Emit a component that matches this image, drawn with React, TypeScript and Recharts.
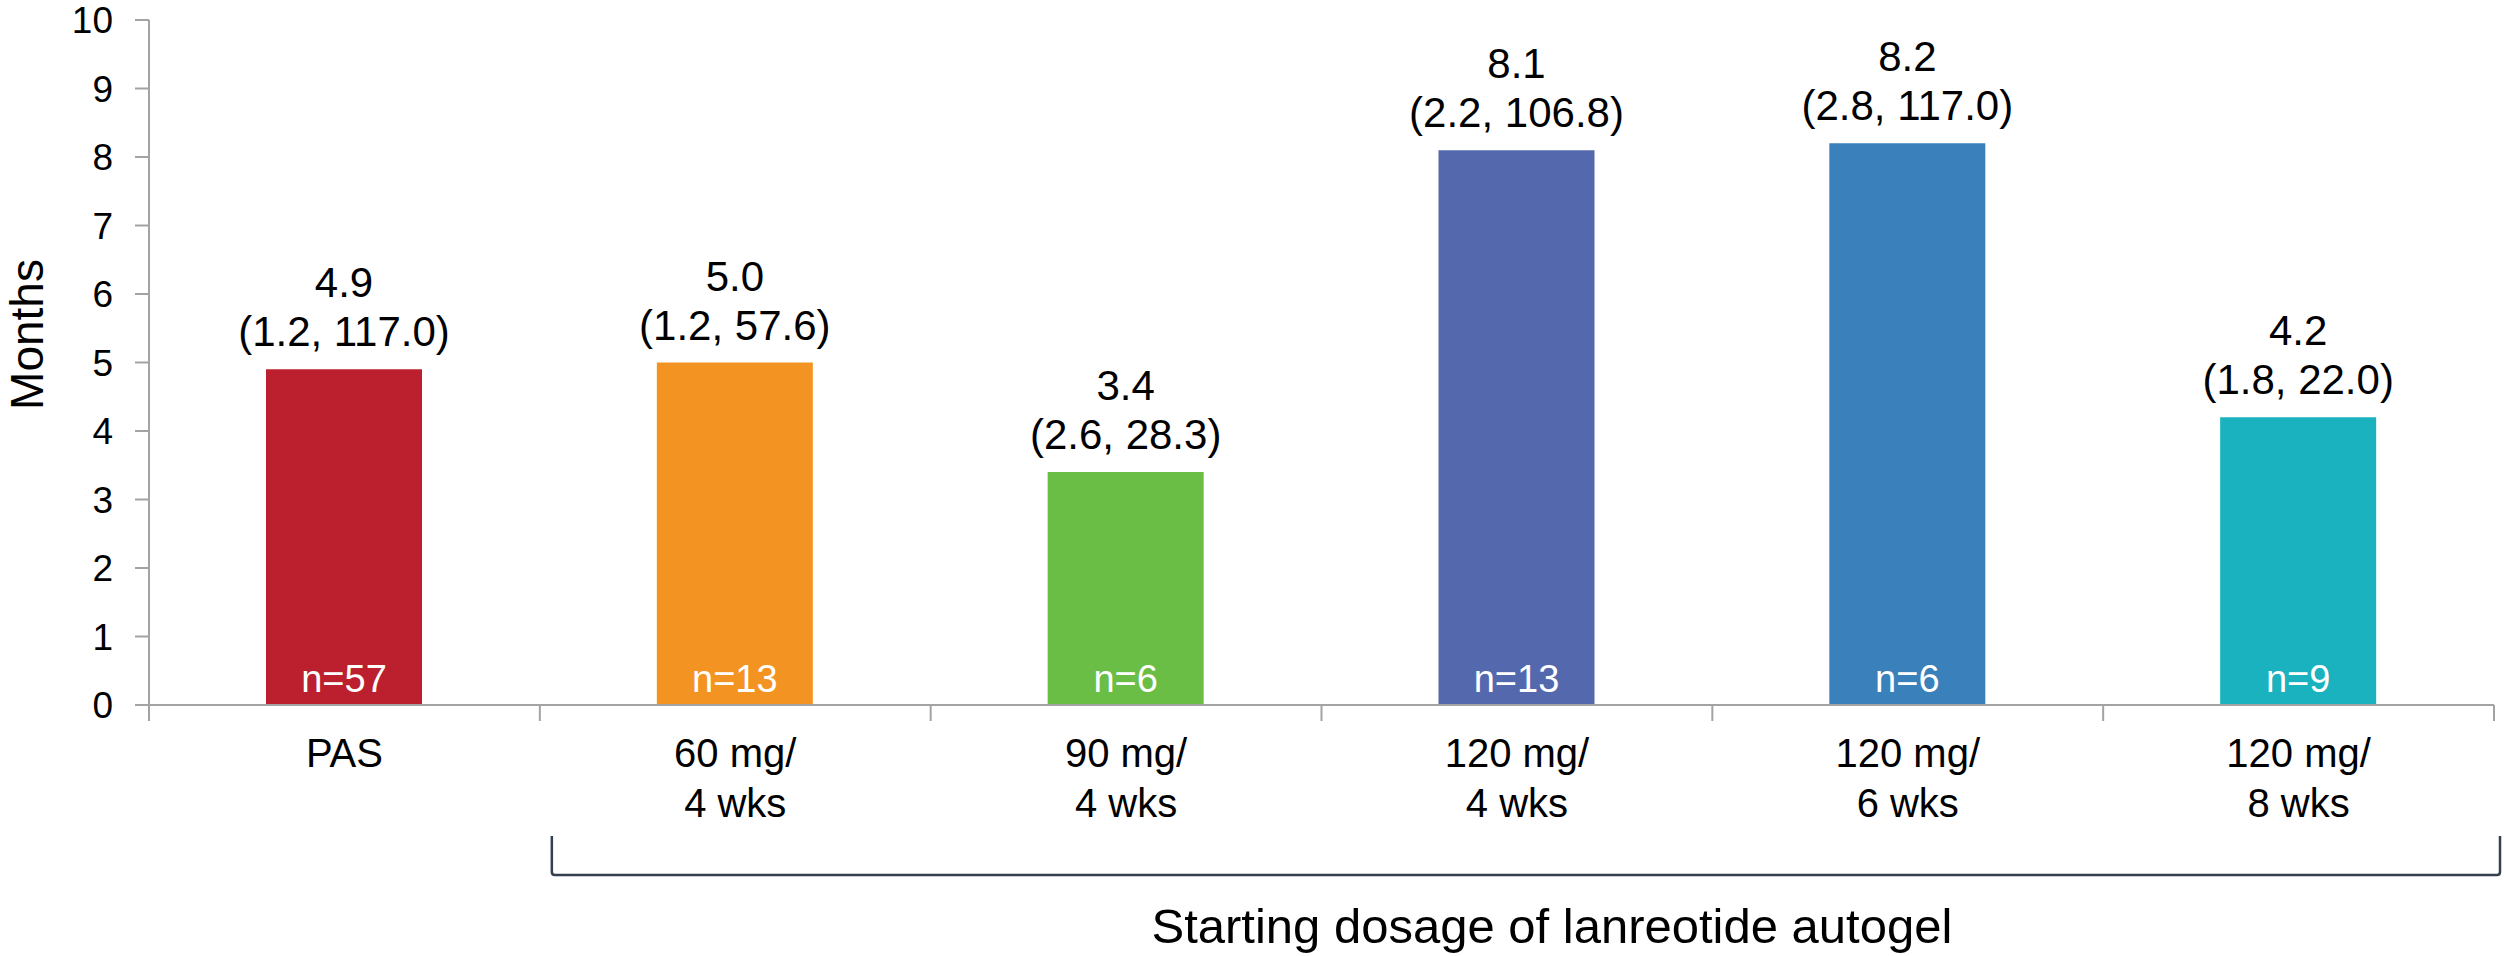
import React from 'react';
import { BarChart, Bar, XAxis, YAxis, Cell, LabelList } from 'recharts';

// ---- data ----
const labelLine1 = ['PAS', '60 mg/', '90 mg/', '120 mg/', '120 mg/', '120 mg/'];
const labelLine2 = ['', '4 wks', '4 wks', '4 wks', '6 wks', '8 wks'];
const medianMonths = [4.9, 5.0, 3.4, 8.1, 8.2, 4.2];
const rangeLow = [1.2, 1.2, 2.6, 2.2, 2.8, 1.8];
const rangeHigh = [117.0, 57.6, 28.3, 106.8, 117.0, 22.0];
const nPatients = [57, 13, 6, 13, 6, 9];
const barColors = ['#BC202E', '#F39422', '#6ABD45', '#5469AD', '#3A80BA', '#1AB2BF'];
const yTicks = [0, 1, 2, 3, 4, 5, 6, 7, 8, 9, 10];
const yLabel = 'Months';
const groupTitle = 'Starting dosage of lanreotide autogel';

const data = labelLine1.map((l1, i) => ({
  name: l1 + (labelLine2[i] ? ' ' + labelLine2[i] : ''),
  median: medianMonths[i],
  n: nPatients[i],
}));

// ---- layout ----
const W = 2504;
const H = 956;
const FONT = '"Liberation Sans", Arial, Helvetica, sans-serif';
const AXIS_COLOR = '#A3A3A3';
const MARGIN = { top: 20, right: 10, left: 0, bottom: 51 };
const Y_AXIS_W = 149;
const X_AXIS_H = 200;
const PLOT_W = W - MARGIN.left - MARGIN.right - Y_AXIS_W;
const BAND = PLOT_W / data.length;

const renderXTick = (props: any) => {
  const { x, y, payload, index } = props;
  const i = typeof index === 'number' ? index : payload.index;
  const left = x - BAND / 2;
  const right = x + BAND / 2;
  const isLast = i === data.length - 1;
  return (
    <g>
      <line x1={left} x2={left} y1={y} y2={y + 16} stroke={AXIS_COLOR} strokeWidth={2} />
      {isLast && <line x1={right} x2={right} y1={y} y2={y + 16} stroke={AXIS_COLOR} strokeWidth={2} />}
      <text x={x} y={y + 62} textAnchor="middle" fontSize={40} fontFamily={FONT} fill="#000">
        {labelLine1[i]}
      </text>
      {labelLine2[i] && (
        <text x={x} y={y + 112} textAnchor="middle" fontSize={40} fontFamily={FONT} fill="#000">
          {labelLine2[i]}
        </text>
      )}
      {isLast && (() => {
        const bl = x - BAND * 4.5 + 12;
        const br = right + 6;
        const top = y + 131;
        const bot = y + 170;
        return (
          <g>
            <path
              d={`M${bl},${top} L${bl},${bot - 3} Q${bl},${bot} ${bl + 3},${bot} L${br - 3},${bot} Q${br},${bot} ${br},${bot - 3} L${br},${top}`}
              fill="none"
              stroke="#34404E"
              strokeWidth={2.5}
            />
            <text x={(bl + br) / 2 + 26} y={y + 238} textAnchor="middle" fontSize={49} fontFamily={FONT} fill="#000">
              {groupTitle}
            </text>
          </g>
        );
      })()}
    </g>
  );
};

const renderTopLabel = (props: any) => {
  const { x, y, width, index } = props;
  const cx = Number(x) + Number(width) / 2;
  const top = Number(y);
  return (
    <g>
      <text x={cx} y={top - 72} textAnchor="middle" fontSize={42} fontFamily={FONT} fill="#000">
        {medianMonths[index].toFixed(1)}
      </text>
      <text x={cx} y={top - 23} textAnchor="middle" fontSize={42} fontFamily={FONT} fill="#000">
        {`(${rangeLow[index].toFixed(1)}, ${rangeHigh[index].toFixed(1)})`}
      </text>
    </g>
  );
};

const renderNLabel = (props: any) => {
  const { x, y, width, height, index } = props;
  const cx = Number(x) + Number(width) / 2;
  const bottom = Number(y) + Number(height);
  return (
    <text x={cx} y={bottom - 13} textAnchor="middle" fontSize={38} fontFamily={FONT} fill="#fff">
      {`n=${nPatients[index]}`}
    </text>
  );
};

const renderYLabel = (props: any) => {
  const vb = props.viewBox || {};
  const cy = Number(vb.y) + Number(vb.height) / 2 - 28;
  const lx = 43;
  return (
    <text
      x={lx}
      y={cy}
      textAnchor="middle"
      fontSize={46}
      fontFamily={FONT}
      fill="#000"
      transform={`rotate(-90, ${lx}, ${cy})`}
    >
      {yLabel}
    </text>
  );
};

export default function App() {
  return (
    <div style={{ position: 'absolute', left: 0, top: 0, width: W, height: H, background: '#fff' }}>
      <BarChart width={W} height={H} data={data} margin={MARGIN}>
        <YAxis
          type="number"
          domain={[0, 10]}
          ticks={yTicks}
          interval={0}
          width={Y_AXIS_W}
          axisLine={{ stroke: AXIS_COLOR, strokeWidth: 2 }}
          tickLine={{ stroke: AXIS_COLOR, strokeWidth: 2 }}
          tickSize={14}
          tickMargin={22}
          tick={{ fill: '#000', fontSize: 37, fontFamily: FONT }}
          label={renderYLabel}
        />
        <XAxis
          dataKey="name"
          interval={0}
          height={X_AXIS_H}
          axisLine={{ stroke: AXIS_COLOR, strokeWidth: 2 }}
          tickLine={false}
          tickSize={0}
          tickMargin={0}
          tick={renderXTick}
        />
        <Bar dataKey="median" barSize={156} isAnimationActive={false}>
          {data.map((d, i) => (
            <Cell key={d.name + i} fill={barColors[i]} />
          ))}
          <LabelList dataKey="median" content={renderTopLabel} />
          <LabelList dataKey="n" content={renderNLabel} />
        </Bar>
      </BarChart>
    </div>
  );
}
